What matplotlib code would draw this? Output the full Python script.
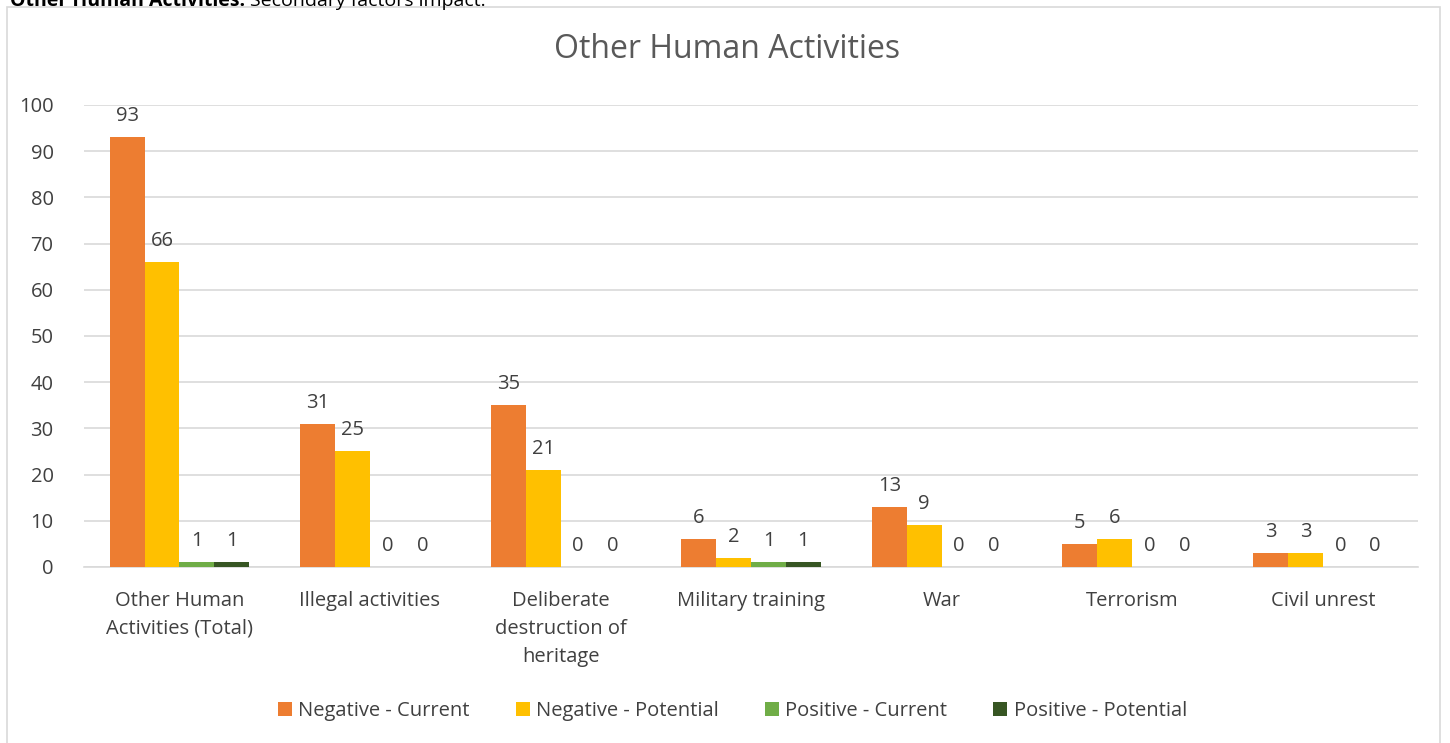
import matplotlib
matplotlib.use("Agg")
import matplotlib.pyplot as plt
import matplotlib.patches as mpatches
import numpy as np

plt.rcParams["font.family"] = ["Open Sans", "DejaVu Sans"]

categories = ["Other Human\nActivities (Total)", "Illegal activities",
              "Deliberate\ndestruction of\nheritage", "Military training",
              "War", "Terrorism", "Civil unrest"]
series_names = ["Negative - Current", "Negative - Potential",
                "Positive - Current", "Positive - Potential"]
neg_current = [93, 31, 35, 6, 13, 5, 3]
neg_potential = [66, 25, 21, 2, 9, 6, 3]
pos_current = [1, 0, 0, 1, 0, 0, 0]
pos_potential = [1, 0, 0, 1, 0, 0, 0]
y_ticks = [0, 10, 20, 30, 40, 50, 60, 70, 80, 90, 100]

colors = ["#ED7D31", "#FFC000", "#70AD47", "#375623"]
txt = "#595959"
lab = "#404040"

fig = plt.figure(figsize=(14.5, 7.43), dpi=100)
ax = fig.add_axes([0.058, 0.2369, 0.92, 0.6218])

# chart frame
fig.patches.append(mpatches.Rectangle((0.005, -0.01), 0.988, 1.0 - 0.0094 + 0.01,
                                      transform=fig.transFigure, fill=False,
                                      edgecolor="#D9D9D9", linewidth=1.2))

# caption above the chart, clipped at the top edge like the source
t1 = fig.text(0.007, 0.998, "Other Human Activities:", fontsize=14,
              fontweight="bold", color="black", va="center", ha="left")
fig.canvas.draw()
bb = t1.get_window_extent()
fig.text(bb.x1 / fig.bbox.width + 0.003, 0.998, "Secondary factors impact.",
         fontsize=14, color="black", va="center", ha="left")

x = np.arange(len(categories))
w = 0.183
all_series = [neg_current, neg_potential, pos_current, pos_potential]
for i, (vals, name, c) in enumerate(zip(all_series, series_names, colors)):
    pos = x + (i - 1.5) * w
    bars = ax.bar(pos, vals, width=w, color=c, label=name, zorder=3)
    for b, v in zip(bars, vals):
        ax.annotate(f"{v}", (b.get_x() + b.get_width() / 2, v),
                    xytext=(0, 8), textcoords="offset points",
                    ha="center", va="bottom", fontsize=14.5, color=lab)

ax.set_xlim(-0.5, len(categories) - 0.5)
ax.set_ylim(0, 100)
ax.set_yticks(y_ticks)
ax.set_xticks(x)
ax.set_xticklabels(categories, fontsize=14.5, color=lab, linespacing=1.55)
ax.tick_params(axis="y", labelsize=14.5, labelcolor=lab, length=0, pad=22)
ax.tick_params(axis="x", length=0, pad=17)
ax.yaxis.grid(True, color="#D9D9D9", linewidth=1.2, zorder=0)
ax.set_axisbelow(True)
for s in ["top", "right", "left"]:
    ax.spines[s].set_visible(False)
ax.spines["bottom"].set_color("#D9D9D9")
ax.spines["bottom"].set_linewidth(1.2)

# title centred on the chart frame rather than the plot area
fig.text(0.5014, 1 - 50 / 743, "Other Human Activities", fontsize=23,
         color=txt, ha="center", va="center")

fig.legend(loc="center", bbox_to_anchor=(0.505, 0.043), ncol=4, frameon=False,
           fontsize=14.5, handlelength=0.7, handleheight=0.7, handletextpad=0.3,
           columnspacing=2.3, labelcolor=lab)

fig.savefig("out.png", dpi=100)
